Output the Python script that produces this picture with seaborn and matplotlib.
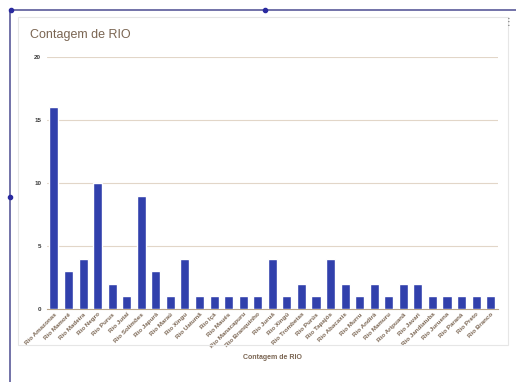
import matplotlib
matplotlib.use("Agg")
import matplotlib.pyplot as plt
from matplotlib.lines import Line2D
from matplotlib.patches import Rectangle
import seaborn as sns
import pandas as pd

# ----- data -----
rios = [
    "Rio Amazonas", "Rio Mamoré", "Rio Madeira", "Rio Negro", "Rio Purus",
    "Rio Jutaí", "Rio Solimões", "Rio Japurá", "Rio Maraú", "Rio Xingu",
    "Rio Uatumã", "Rio Içá", "Rio Maués", "Rio Manacapuru", "Rio Branquinho",
    "Rio Juruá", "Rio Xingú", "Rio Trombetas", "Rio Purús", "Rio Tapajós",
    "Rio Abacaxis", "Rio Murru", "Rio Andirá", "Rio Mamuru", "Rio Aripuanã",
    "Rio Javari", "Rio Jandiatuba", "Rio Juruena", "Rio Paraná", "Rio Preto",
    "Rio Branco",
]
contagem = [16, 3, 4, 10, 2, 1, 9, 3, 1, 4, 1, 1, 1, 1, 1,
            4, 1, 2, 1, 4, 2, 1, 2, 1, 2, 2, 1, 1, 1, 1, 1]

df = pd.DataFrame({"rio": rios, "contagem": contagem})

sns.set_style("white")
plt.rcParams["font.family"] = ["Liberation Sans", "DejaVu Sans"]

txt = "#7a6552"
fig = plt.figure(figsize=(5.16, 3.82), dpi=100)

# card background / frame
fig.add_artist(Rectangle((18 / 516, 1 - 345 / 382), 490 / 516, 328 / 382,
                         transform=fig.transFigure, fill=False,
                         edgecolor="#e6e6e6", lw=0.8))
fig.add_artist(Line2D([10 / 516, 1], [1 - 10 / 382] * 2, color="#5a5a9a", lw=1.2))
fig.add_artist(Line2D([10 / 516] * 2, [0, 1 - 10 / 382], color="#5a5a9a", lw=1.2))
for x, y in [(11, 10), (265, 10), (10, 197)]:
    fig.add_artist(Line2D([x / 516], [1 - y / 382], marker="o", ms=3,
                          color="#2a2aa0", lw=0))
fig.text(508 / 516, 1 - 22 / 382, "⋮", fontsize=7, color="#666666",
         ha="center", va="center")

ax = fig.add_axes([0.0905, 0.191, 0.8745, 0.66])
sns.barplot(data=df, x="rio", y="contagem", color="#3140ac", saturation=1,
            width=0.62, ax=ax, zorder=3)

ax.set_ylim(0, 20)
ax.set_xlim(-0.5, len(rios) - 0.5)
ax.set_yticks([0, 5, 10, 15, 20])
ax.grid(axis="y", color="#e2d6c8", lw=0.8, zorder=0)
for s in ["top", "right", "left"]:
    ax.spines[s].set_visible(False)
ax.spines["bottom"].set_color("#b9a58a")
ax.spines["bottom"].set_linewidth(0.8)
ax.tick_params(axis="y", length=0, labelsize=4.5, labelcolor="#3a3a3a", pad=4)
ax.tick_params(axis="x", length=0, labelsize=4.5, labelcolor=txt, pad=2)
plt.setp(ax.get_xticklabels(), rotation=45, ha="right", rotation_mode="anchor",
         fontweight="bold")
plt.setp(ax.get_yticklabels(), fontweight="bold")
ax.set_ylabel("")
ax.set_xlabel("Contagem de RIO", fontsize=5, color=txt, fontweight="bold",
              labelpad=3)

fig.text(30 / 516, 1 - 35 / 382, "Contagem de RIO", fontsize=9, color=txt,
         ha="left", va="center")

fig.savefig("out.png", dpi=100, facecolor="white")
